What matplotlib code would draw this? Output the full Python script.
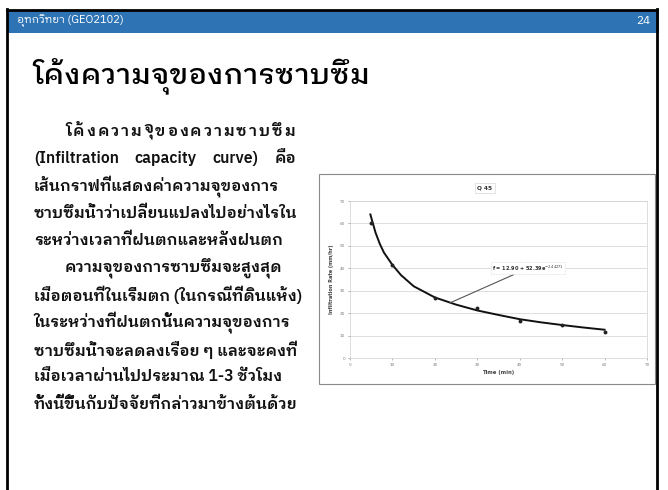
import matplotlib
matplotlib.use('Agg')
import matplotlib.pyplot as plt
from matplotlib import font_manager as fm
from matplotlib.ft2font import FT2Font
from matplotlib.patches import Rectangle

# Slide texts
header_left = 'อุทกวิทยา (GEO2102)'
header_right = '24'
slide_title = 'โค้งความจุของการซาบซึม'
body_lines = [
    'โค้งความจุของความซาบซึม',
    '(Infiltration capacity curve) คือ',
    'เส้นกราฟที่แสดงค่าความจุของการ',
    'ซาบซึมน้ำว่าเปลี่ยนแปลงไปอย่างไรใน',
    'ระหว่างเวลาที่ฝนตกและหลังฝนตก',
    'ความจุของการซาบซึมจะสูงสุด',
    'เมื่อตอนที่ในเริ่มตก (ในกรณีที่ดินแห้ง)',
    'ในระหว่างที่ฝนตกนั้นความจุของการ',
    'ซาบซึมน้ำจะลดลงเรื่อย ๆ และจะคงที่',
    'เมื่อเวลาผ่านไปประมาณ 1-3 ชั่วโมง',
    'ทั้งนี้ขึ้นกับปัจจัยที่กล่าวมาข้างต้นด้วย',
]
indented = [0, 5]
justify_chars = [0]
justify_words = [1]

# Chart data
chart_title = 'Q 45'
obs_time = [5, 10, 20, 30, 40, 50, 60]
obs_rate = [60.2, 41.5, 26.8, 22.3, 16.5, 14.7, 11.7]
fit_time = [4.8, 6, 7, 8, 10, 12, 15, 20, 25, 30, 35, 40, 45, 50, 55, 60]
fit_rate = [64, 56, 51, 47, 41.5, 37, 32, 27, 23.8, 21.2, 19.2, 17.3, 15.9, 14.7, 13.6, 12.6]
fit_label = 'f = 12.90 + 52.39e$^{-2.44271}$'
x_ticks = [0, 10, 20, 30, 40, 50, 60, 70]
y_ticks = [0, 10, 20, 30, 40, 50, 60, 70]

preferred = ['IBM Plex Sans Thai Looped', 'Noto Sans Thai Looped', 'Noto Sans Thai', 'Loma']


def thai_font():
    found = {}
    for path in fm.findSystemFonts():
        try:
            cmap = FT2Font(path).get_charmap()
        except Exception:
            continue
        if 0x0E01 in cmap and 0x0E32 in cmap:
            fm.fontManager.addfont(path)
            found[fm.FontProperties(fname=path).get_name()] = path
    for p in preferred:
        if p in found:
            return p
    return sorted(found)[0] if found else 'DejaVu Sans'


thai = thai_font()
plt.rcParams['font.family'] = [thai, 'DejaVu Sans']

W, H = 668, 490
fig = plt.figure(figsize=(W / 100, H / 100), dpi=100)
renderer = fig.canvas.get_renderer()


def fx(x):
    return x / W


def fy(y):
    return 1 - y / H


def clusters(s):
    marks = {0x0E31} | set(range(0x0E33, 0x0E3B)) | set(range(0x0E47, 0x0E4F))
    out = []
    for ch in s:
        if out and ord(ch) in marks:
            out[-1] += ch
        else:
            out.append(ch)
    return out


def put_justified(x0, x1, y, pieces, **kw):
    widths = []
    for p in pieces:
        t = fig.text(0, 0, p, **kw)
        widths.append(t.get_window_extent(renderer).width)
        t.remove()
    gap = (x1 - x0 - sum(widths)) / max(len(pieces) - 1, 1)
    x = x0
    for p, w in zip(pieces, widths):
        fig.text(fx(x), fy(y), p, **kw)
        x += w + gap


# slide frame and header band
fig.patches.append(Rectangle((fx(8), fy(33)), fx(651), 23 / H, transform=fig.transFigure,
                             facecolor='#2E74B5', edgecolor='none'))
fig.add_artist(plt.Line2D([fx(7), fx(7)], [fy(9), 0], color='black', lw=2, transform=fig.transFigure))
fig.add_artist(plt.Line2D([fx(657), fx(657)], [fy(9), 0], color='black', lw=2, transform=fig.transFigure))
fig.add_artist(plt.Line2D([fx(7), fx(657)], [fy(10), fy(10)], color='black', lw=2, transform=fig.transFigure))

fig.text(fx(17), fy(21), header_left, color='white', fontsize=8, va='center', ha='left')
fig.text(fx(650), fy(21), header_right, color='white', fontsize=8.5, va='center', ha='right')

fig.text(fx(32), fy(77), slide_title, fontsize=21, fontweight='medium', va='center', ha='left')

body_kw = dict(fontsize=11.3, fontweight='semibold', va='center', ha='left', color='#111111')
for i, line in enumerate(body_lines):
    x = 65 if i in indented else 34
    y = 131 + i * 27.3
    if i in justify_chars:
        put_justified(x, 295, y, clusters(line), **body_kw)
    elif i in justify_words:
        put_justified(x, 296, y, line.split(' '), **body_kw)
    else:
        fig.text(fx(x), fy(y), line, **body_kw)

# embedded chart
fig.patches.append(Rectangle((fx(319), fy(384)), fx(336), 210 / H, transform=fig.transFigure,
                             facecolor='white', edgecolor='#8a8a8a', lw=0.8, zorder=-1))

ax = fig.add_axes([fx(350), fy(358), fx(297), 157 / H])
ax.patch.set_alpha(0)
ax.plot(fit_time, fit_rate, color='#111111', lw=1.4, zorder=3)
ax.plot(obs_time, obs_rate, 'o', color='#222222', ms=1.8, zorder=4)
ax.annotate(fit_label, xy=(23.6, 24.6), xytext=(33.5, 40), fontsize=3.6, fontweight='bold',
            family='DejaVu Sans', va='center', ha='left', color='#333333',
            bbox=dict(boxstyle='square,pad=0.3', fc='white', ec='#bbbbbb', lw=0.4, ls=':'),
            arrowprops=dict(arrowstyle='-', color='#555555', lw=0.8, shrinkA=0, shrinkB=0))
ax.set_xlim(0, 70)
ax.set_ylim(0, 70)
ax.set_xticks(x_ticks)
ax.set_yticks(y_ticks)
ax.tick_params(labelsize=3.2, colors='#777777', length=1.5, width=0.4, pad=2)
ax.grid(axis='y', color='#d8d8d8', lw=0.6)
for s in ax.spines.values():
    s.set_color('#d0d0d0')
    s.set_linewidth(0.5)
ax.set_xlabel('Time (min)', fontsize=3.8, family='DejaVu Sans', fontweight='bold', color='#444444', labelpad=2)
ax.set_ylabel('Infiltration Rate (mm/hr)', fontsize=3.6, family='DejaVu Sans', fontweight='bold',
              color='#444444', labelpad=4)
fig.text(fx(485), fy(188), chart_title, fontsize=4.2, family='DejaVu Sans', fontweight='bold',
         ha='center', va='center', color='#333333',
         bbox=dict(boxstyle='square,pad=0.35', fc='white', ec='#cccccc', lw=0.4))

fig.savefig('out.png', dpi=100)
